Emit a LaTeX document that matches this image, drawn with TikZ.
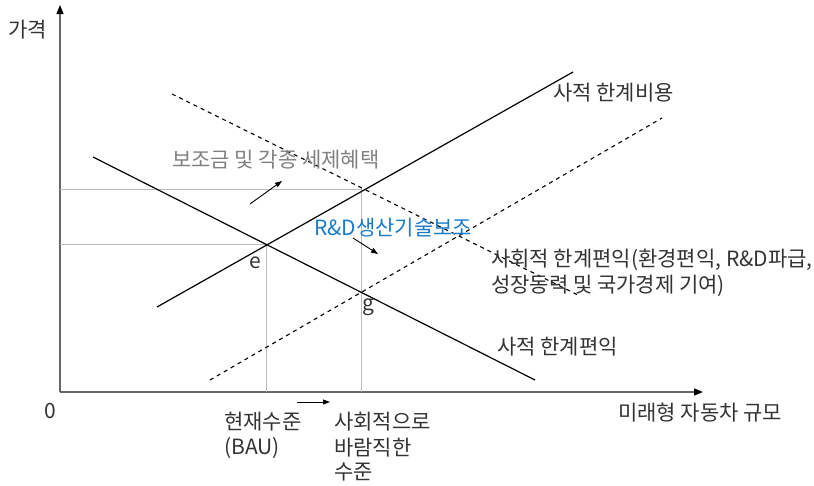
\documentclass[tikz,border=0pt]{standalone}
\usepackage{fontspec}
\setmainfont{Noto Sans CJK KR}
\usetikzlibrary{arrows.meta}
\definecolor{txt}{HTML}{333333}
\definecolor{axisc}{HTML}{666666}
\definecolor{guide}{HTML}{BBBBBB}
\definecolor{subc}{HTML}{808080}
\definecolor{bluec}{HTML}{1A7ACC}
\tikzset{
  lbl/.style={anchor=west,inner sep=0pt,text=txt,font=\fontsize{21}{25}\selectfont},
  axisline/.style={draw=axisc,line width=1.3pt,-{Triangle[length=9pt,width=7pt,fill=black,color=black]}},
  guideline/.style={draw=guide,line width=0.8pt},
  curve/.style={draw=black,line width=1.2pt},
  dcurve/.style={draw=black,line width=1.1pt,dash pattern=on 4pt off 4pt},
  smallarrow/.style={draw=black,line width=0.9pt,-{Triangle[length=7pt,width=5pt]}}
}
\begin{document}
\begin{tikzpicture}[x=1pt,y=-1pt]
\useasboundingbox (0,0) rectangle (814,485);
% axes
\coordinate (O) at (60,392);
\coordinate (ytip) at (60,5);
\coordinate (xtip) at (703,392);
\draw[axisline] (O) -- (ytip);
\draw[axisline] (O) -- (xtip);
% guide lines
\coordinate (e) at (266,244);
\coordinate (ey) at (60,244);
\coordinate (ex) at (266,392);
\coordinate (s) at (361,189);
\coordinate (sy) at (60,189);
\coordinate (sx) at (361,392);
\draw[guideline] (ey) -- (e) -- (ex);
\draw[guideline] (sy) -- (s) -- (sx);
% curves
\coordinate (mc1) at (157,307);
\coordinate (mc2) at (573,72);
\coordinate (mb1) at (93,157);
\coordinate (mb2) at (535,380);
\coordinate (smb1) at (172,94);
\coordinate (smb2) at (580,296);
\coordinate (smc1) at (210,380);
\coordinate (smc2) at (662,118);
\draw[curve] (mc1) -- (mc2);
\draw[curve] (mb1) -- (mb2);
\draw[dcurve] (smb1) -- (smb2);
\draw[dcurve] (smc1) -- (smc2);
% small arrows
\coordinate (a1s) at (250,204);
\coordinate (a1e) at (282,181);
\coordinate (a2s) at (353,238);
\coordinate (a2e) at (378,254);
\coordinate (a3s) at (297,402);
\coordinate (a3e) at (330,402);
\draw[smallarrow] (a1s) -- (a1e);
\draw[smallarrow] (a2s) -- (a2e);
\draw[smallarrow] (a3s) -- (a3e);
% labels
\node[lbl] (price) at (8,30) {가격};
\node[lbl,anchor=center] (zero) at (50,411) {0};
\node[lbl] (qty) at (618,413) {미래형 자동차 규모};
\node[lbl] (bau1) at (224,422) {현재수준};
\node[lbl] (bau2) at (224,448) {(BAU)};
\node[lbl] (opt1) at (334,422) {사회적으로};
\node[lbl] (opt2) at (334,448) {바람직한};
\node[lbl] (opt3) at (334,472) {수준};
\node[lbl] (pmc) at (553,93) {사적 한계비용};
\node[lbl,text=subc] (sub) at (172,160) {보조금 및 각종 세제혜택};
\node[lbl,text=bluec] (rnd) at (314,228) {R\&D생산기술보조};
\node[lbl,anchor=center] (elbl) at (255,263) {e};
\node[lbl,anchor=center] (glbl) at (368,307) {g};
\node[lbl] (smb1l) at (491,260) {사회적 한계편익(환경편익, R\&D파급,};
\node[lbl] (smb2l) at (491,286) {성장동력 및 국가경제 기여)};
\node[lbl] (pmb) at (497,347) {사적 한계편익};
\end{tikzpicture}
\end{document}
